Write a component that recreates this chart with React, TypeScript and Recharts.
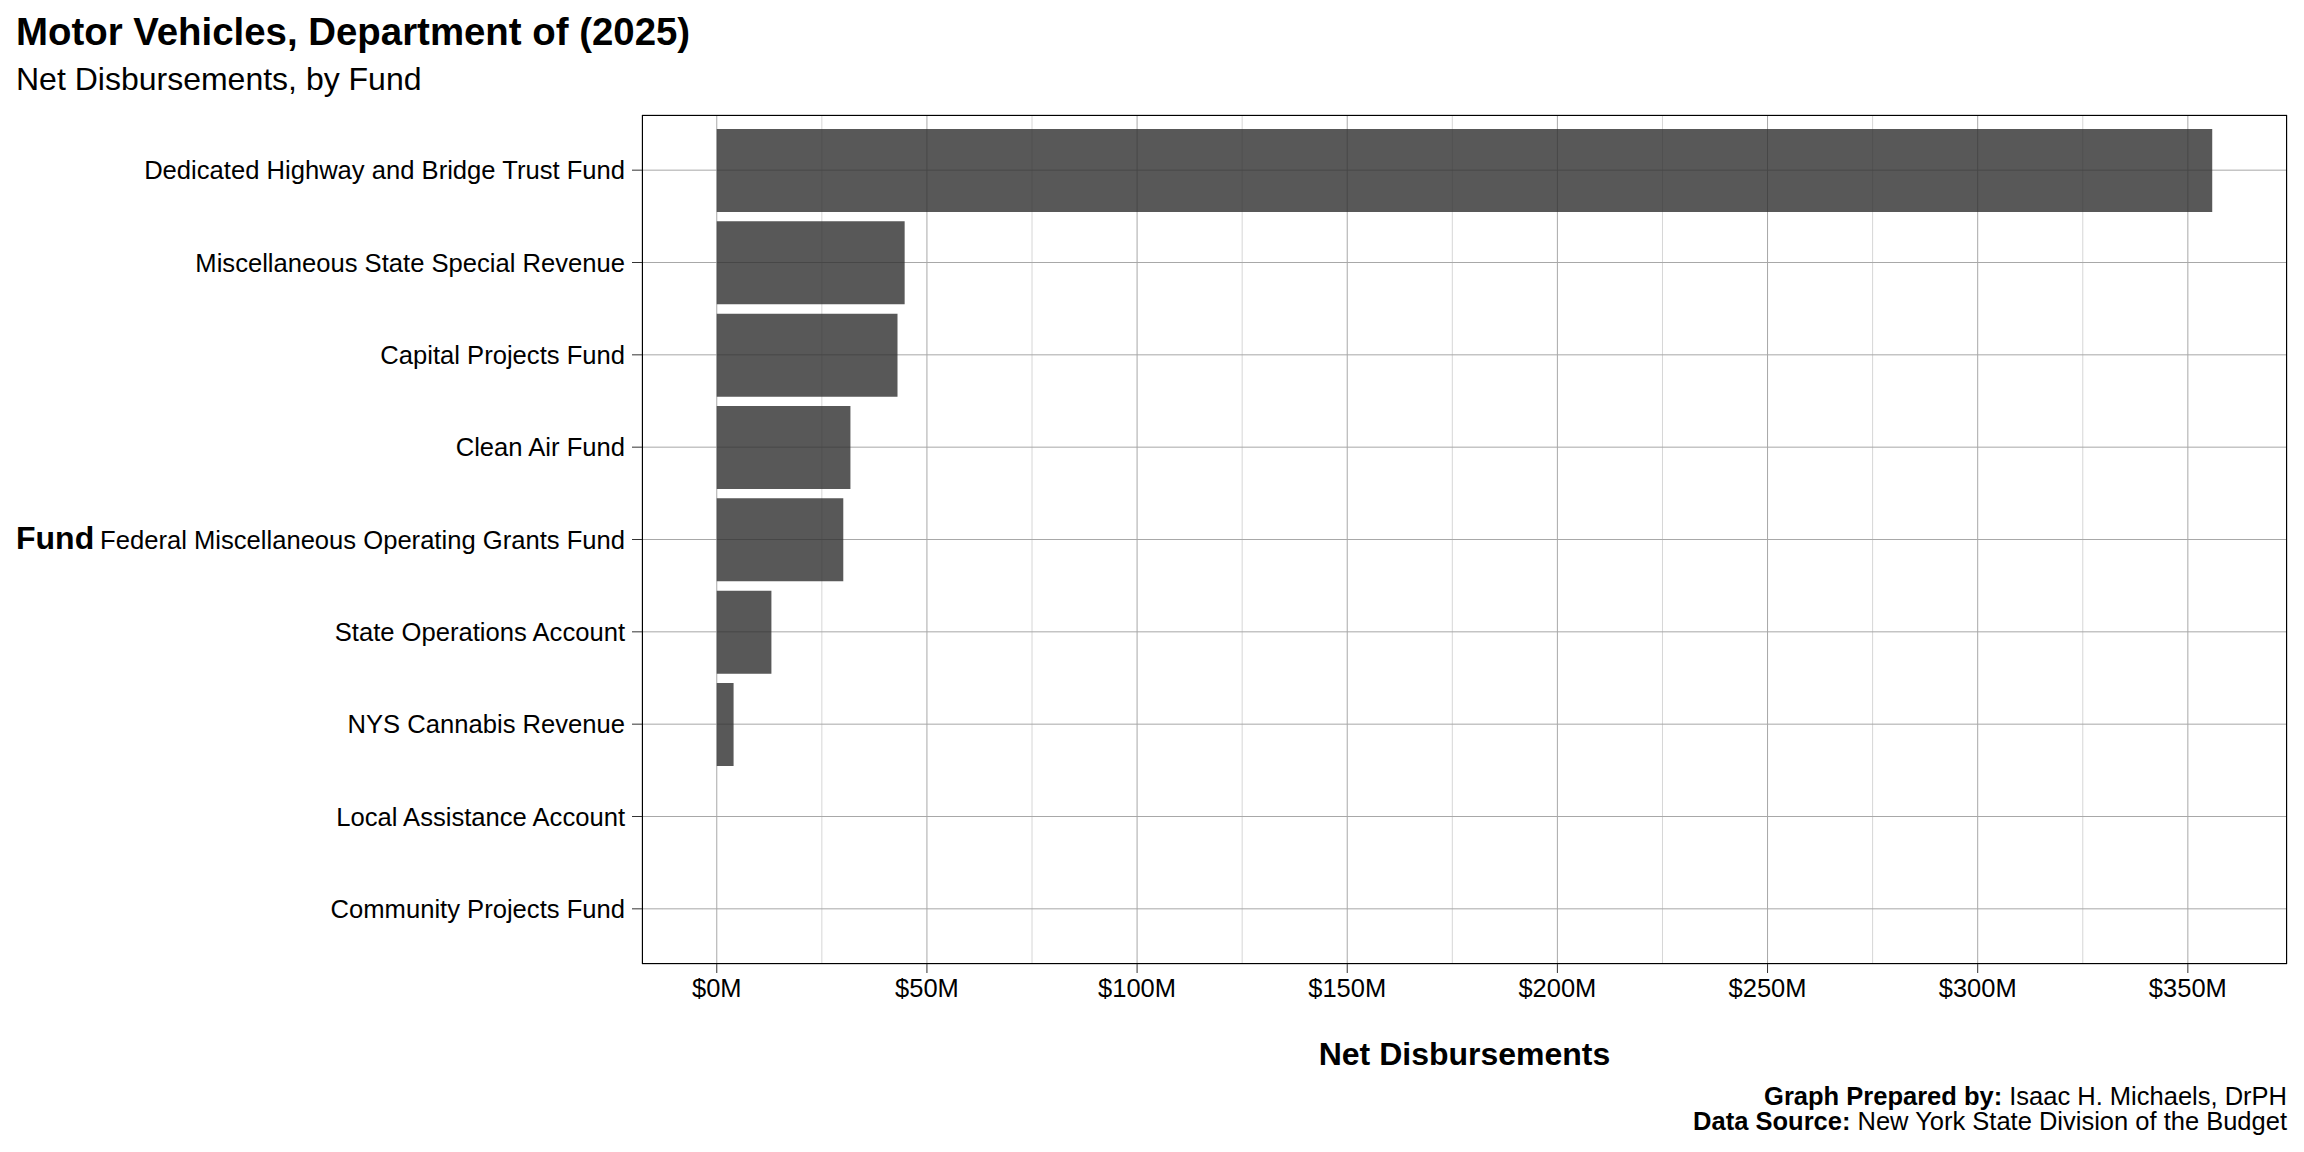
import React from "react";
import {
  BarChart,
  Bar,
  XAxis,
  YAxis,
  CartesianGrid,
} from "recharts";

const funds = [
  "Dedicated Highway and Bridge Trust Fund",
  "Miscellaneous State Special Revenue",
  "Capital Projects Fund",
  "Clean Air Fund",
  "Federal Miscellaneous Operating Grants Fund",
  "State Operations Account",
  "NYS Cannabis Revenue",
  "Local Assistance Account",
  "Community Projects Fund",
];

// net disbursements, $ millions
const disbursements = [355.8, 44.7, 43.0, 31.8, 30.1, 13.0, 4.0, 0, 0];

const majorTicks = [0, 50, 100, 150, 200, 250, 300, 350];
const minorTicks = [25, 75, 125, 175, 225, 275, 325];

const W = 2304;
const H = 1152;
const FONT = "'Liberation Sans', Arial, Helvetica, sans-serif";

const data = funds.map((fund, i) => ({ fund, value: disbursements[i] }));

// ggplot-style 5% expansion on both sides
const maxVal = Math.max(...disbursements);
const pad = maxVal * 0.05;
const xDomain = [-pad, maxVal + pad];

const xAxisHeight = 40;
const yAxisWidth = 642;
const margin = { top: 115, right: 17, bottom: 188 - xAxisHeight, left: 0 };

export default function App() {
  const plotLeft = margin.left + yAxisWidth;
  const plotWidth = W - plotLeft - margin.right;
  const plotHeight = H - margin.top - margin.bottom - xAxisHeight;

  return (
    <div
      style={{
        position: "absolute",
        left: 0,
        top: 0,
        width: W,
        height: H,
        background: "#fff",
        fontFamily: FONT,
        color: "#000",
      }}
    >
      <div style={{ position: "absolute", left: 16, top: 10, fontSize: 38.4, fontWeight: "bold", lineHeight: "44px" }}>
        Motor Vehicles, Department of (2025)
      </div>
      <div style={{ position: "absolute", left: 16, top: 60, fontSize: 32, lineHeight: "38px" }}>
        Net Disbursements, by Fund
      </div>

      <BarChart
        width={W}
        height={H}
        data={data}
        layout="vertical"
        margin={margin}
        style={{ position: "absolute", left: 0, top: 0 }}
      >
        <CartesianGrid
          horizontal={false}
          verticalValues={minorTicks}
          stroke="#d6d6d6"
          strokeWidth={1}
        />
        <CartesianGrid stroke="#a8a8a8" strokeWidth={1} />
        <XAxis
          type="number"
          domain={xDomain}
          ticks={majorTicks}
          allowDataOverflow
          height={xAxisHeight}
          tickFormatter={(v) => `$${v}M`}
          tick={{ fill: "#000", fontSize: 25.5, fontFamily: FONT }}
          tickLine={{ stroke: "#333" }}
          tickSize={9}
          tickMargin={6}
          axisLine={false}
        />
        <YAxis
          type="category"
          dataKey="fund"
          width={yAxisWidth}
          padding={{ top: 9, bottom: 9 }}
          interval={0}
          tick={{ fill: "#000", fontSize: 25.6, fontFamily: FONT }}
          tickLine={{ stroke: "#333" }}
          tickSize={10}
          tickMargin={7}
          axisLine={false}
        />
        <Bar
          dataKey="value"
          fill="#2e2e2e"
          fillOpacity={0.8}
          barSize={83}
          isAnimationActive={false}
        />
      </BarChart>

      <div
        style={{
          position: "absolute",
          left: plotLeft,
          top: margin.top,
          width: plotWidth,
          height: plotHeight,
          border: "1.5px solid #000",
          boxSizing: "border-box",
          pointerEvents: "none",
        }}
      />

      <div style={{ position: "absolute", left: 16, top: 519, fontSize: 32, fontWeight: "bold", lineHeight: "38px" }}>
        Fund
      </div>

      <div
        style={{
          position: "absolute",
          left: plotLeft,
          width: plotWidth,
          top: 1035,
          textAlign: "center",
          fontSize: 32,
          fontWeight: "bold",
          lineHeight: "38px",
        }}
      >
        Net Disbursements
      </div>

      <div
        style={{
          position: "absolute",
          right: W - 2287,
          top: 1084,
          textAlign: "right",
          fontSize: 25.5,
          lineHeight: "25px",
        }}
      >
        <div>
          <b>Graph Prepared by:</b> Isaac H. Michaels, DrPH
        </div>
        <div>
          <b>Data Source:</b> New York State Division of the Budget
        </div>
      </div>
    </div>
  );
}
